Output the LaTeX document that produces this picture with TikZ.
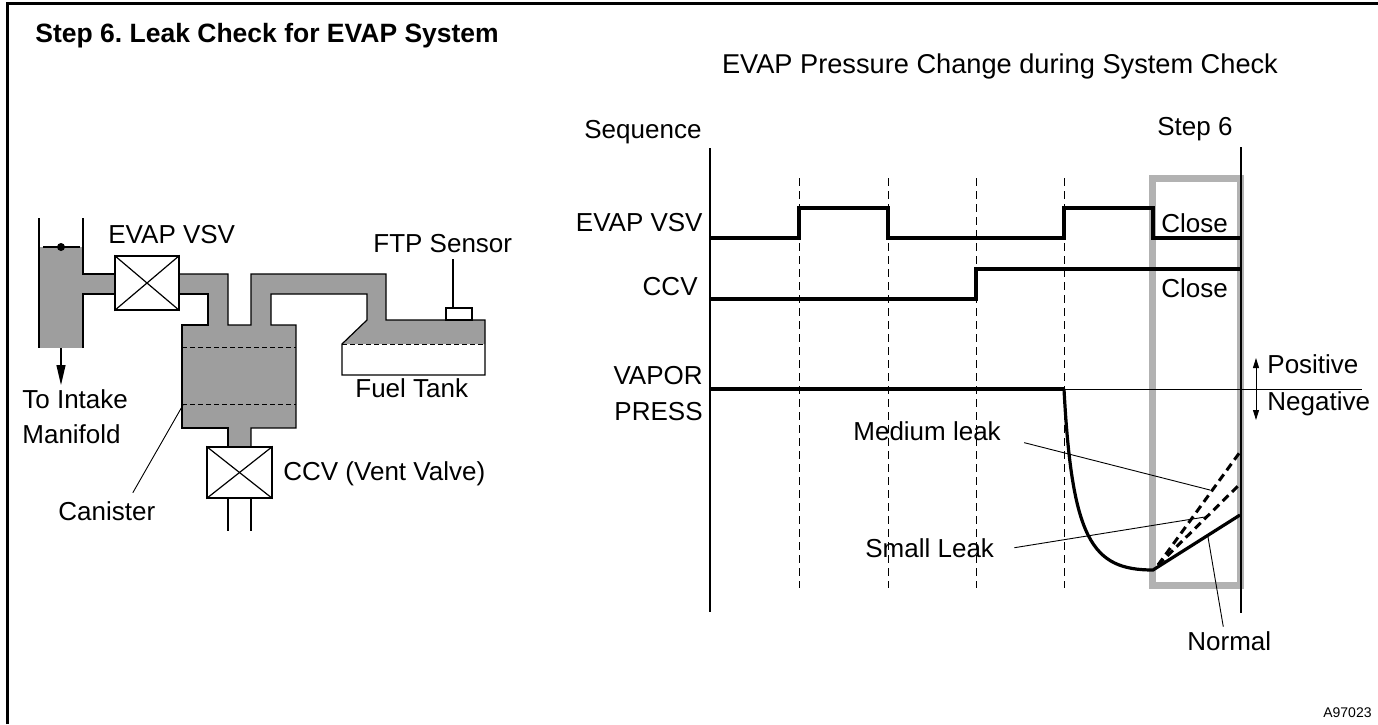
\documentclass[tikz,border=0pt]{standalone}
\usepackage{fontspec}
\setmainfont{Liberation Sans}
\usetikzlibrary{arrows.meta}
\frenchspacing

\begin{document}
\begin{tikzpicture}[
      x = .5pt, y = -.5pt,
      every node/.style = {
        inner sep = 0pt, font = \fontsize{13}{15}\selectfont},
      gas/.style = {fill = black!38},
      wall/.style = {line width = .6pt},
      valve/.style = {draw, line width = .6pt, fill = white},
      layer/.style = {line width = .5pt, dash pattern = on 2.5pt off 1.5pt},
      sig/.style = {line width = 1.6pt},
      phase/.style = {line width = .45pt, dash pattern = on 4pt off 2.5pt},
      leak/.style = {line width = 1.5pt, dash pattern = on 4pt off 2.5pt},
      lead/.style = {line width = .45pt}
      ]
    \useasboundingbox (0,0) rectangle (1378,724);
    \draw[line width = 1.5pt] (7,724) -- (7,3) -- (1378,3);
    \node[anchor = base west, font = \fontsize{13.25}{15}\selectfont\bfseries] (title) at (35,42) {Step 6. Leak Check for EVAP System};

    % gas volume
    \fill[gas] (39,247) rectangle (83,348);
    \fill[gas] (83,274) rectangle (115,294);
    \fill[gas] (179,274) -- (228,274) -- (228,325) -- (208,325) -- (208,294) -- (179,294) -- cycle;
    \fill[gas] (182,325) rectangle (296,428);
    \fill[gas] (228,428) rectangle (251,447);
    \fill[gas] (251,325) -- (251,274) -- (386,274) -- (386,320) -- (485,320) -- (485,344)
      -- (342,344) -- (367,320) -- (367,294) -- (271,294) -- (271,325) -- cycle;

    % walls
    \draw[wall] (39,218) -- (39,348);
    \draw[wall] (83,218) -- (83,274) -- (115,274);
    \draw[wall] (83,348) -- (83,294) -- (115,294);
    \draw[wall] (43,247) -- (80,247);
    \fill (61,247) circle (2pt);
    \draw[wall] (179,274) -- (228,274) -- (228,325) -- (251,325) -- (251,274) -- (386,274)
      -- (386,320) -- (485,320) -- (485,375) -- (342,375) -- (342,344) -- (367,320)
      -- (367,294) -- (271,294) -- (271,325) -- (296,325) -- (296,428) -- (251,428) -- (251,447);
    \draw[wall] (179,294) -- (208,294) -- (208,325) -- (182,325) -- (182,428) -- (228,428) -- (228,447);
    \draw[layer] (182,347) -- (296,347);
    \draw[layer] (182,404) -- (296,404);
    \draw[layer] (342,344) -- (485,344);
    \draw[wall] (228,498) -- (228,531);
    \draw[wall] (251,498) -- (251,531);

    \node[valve, minimum width = 32pt, minimum height = 27pt] (vsv) at (147,283) {};
    \draw[wall] (vsv.north west) -- (vsv.south east);
    \draw[wall] (vsv.north east) -- (vsv.south west);
    \node[valve, minimum width = 32.5pt, minimum height = 25.5pt] (ccv) at (239.5,472.5) {};
    \draw[wall] (ccv.north west) -- (ccv.south east);
    \draw[wall] (ccv.north east) -- (ccv.south west);
    \node[valve, minimum width = 13pt, minimum height = 6pt] (ftp) at (459,314) {};

    \coordinate (mfout) at (61,348);
    \coordinate (mfend) at (61,385);
    \draw[wall, -{Triangle[width = 4.5pt, length = 10pt]}] (mfout) -- (mfend);

    \node[anchor = base west] (vsvlbl) at (108,243) {EVAP VSV};
    \node[anchor = base west] (ftplbl) at (373,252) {FTP Sensor};
    \node[anchor = base west] (tank) at (355,397) {Fuel Tank};
    \node[anchor = base west] (intake) at (22,408) {To Intake};
    \node[anchor = base west] (manifold) at (22,443) {Manifold};
    \node[anchor = base west] (ccvlbl) at (283,480) {CCV (Vent Valve)};
    \node[anchor = base west] (canister) at (58,520) {Canister};
    \coordinate (cantip) at (183,405);
    \draw[lead] ([shift = {(13pt,4pt)}]canister.north) -- (cantip);
    \draw[wall] ([xshift = -3pt]ftp.north) -- ++(0,-48);

    % chart
    \node[anchor = base, font = \fontsize{13.6}{16}\selectfont] (chart) at (1000,73) {EVAP Pressure Change during System Check};
    \node[anchor = base west] (seq) at (584,138) {Sequence};
    \node[anchor = base west] (step) at (1157,135) {Step 6};
    \node[anchor = base east] (evap) at (703,231) {EVAP VSV};
    \node[anchor = base east] (ccvsig) at (698,295) {CCV};
    \node[anchor = base east] (vapor) at (703,384) {VAPOR};
    \node[anchor = base east] (press) at (703,420) {PRESS};

    \draw[line width = 3.5pt, black!30] (1152.5,178) rectangle (1240.5,585);
    \foreach \t in {799,888,976,1064}
      \draw[phase] (\t,178) -- (\t,588);

    \draw[sig] (710,238) -- (799,238) -- (799,208) -- (888,208) -- (888,238) -- (1064,238)
      -- (1064,208) -- (1153,208) -- (1153,238) -- (1240,238);
    \draw[sig] (710,299) -- (976,299) -- (976,269) -- (1240,269);
    \draw[sig] (710,389) -- (1064,389);
    \draw[lead] (1064,389) -- (1362,389);
    \draw[sig] (1064,389) .. controls (1072,540) and (1092,570) .. (1153,570) -- (1240,515);
    \draw[leak] (1158,565) -- (1240,452);
    \draw[leak] (1158,565) -- (1240,484);

    \draw[line width = 1.3pt] (710,148) -- (710,612);
    \draw[line width = 1.3pt] (1241,147) -- (1241,613);

    \node[anchor = base west] (close1) at (1161,232) {Close};
    \node[anchor = base west] (close2) at (1161,297) {Close};
    \node[anchor = base west] (pos) at (1267,373) {Positive};
    \node[anchor = base west] (neg) at (1267,410) {Negative};
    \draw[lead, {Triangle[width = 3pt, length = 5pt]}-{Triangle[width = 3pt, length = 5pt]}] (1256,358) -- (1256,420);

    \node[anchor = base west] (medium) at (853,440) {Medium leak};
    \node[anchor = base west] (small) at (865,557) {Small Leak};
    \node[anchor = base west] (normal) at (1187,650) {Normal};
    \coordinate (mtip) at (1210,490);
    \coordinate (stip) at (1205,517);
    \coordinate (ntip) at (1208,537);
    \draw[lead] ([shift = {(11.5pt,-1pt)}]medium.south east) -- (mtip);
    \draw[lead] ([xshift = 10pt]small.east) -- (stip);
    \draw[lead] ([shift = {(-3pt,2pt)}]normal.north) -- (ntip);

    \node[anchor = base east, font = \fontsize{7}{8}\selectfont] (code) at (1372,717) {A97023};
  \end{tikzpicture}
\end{document}
